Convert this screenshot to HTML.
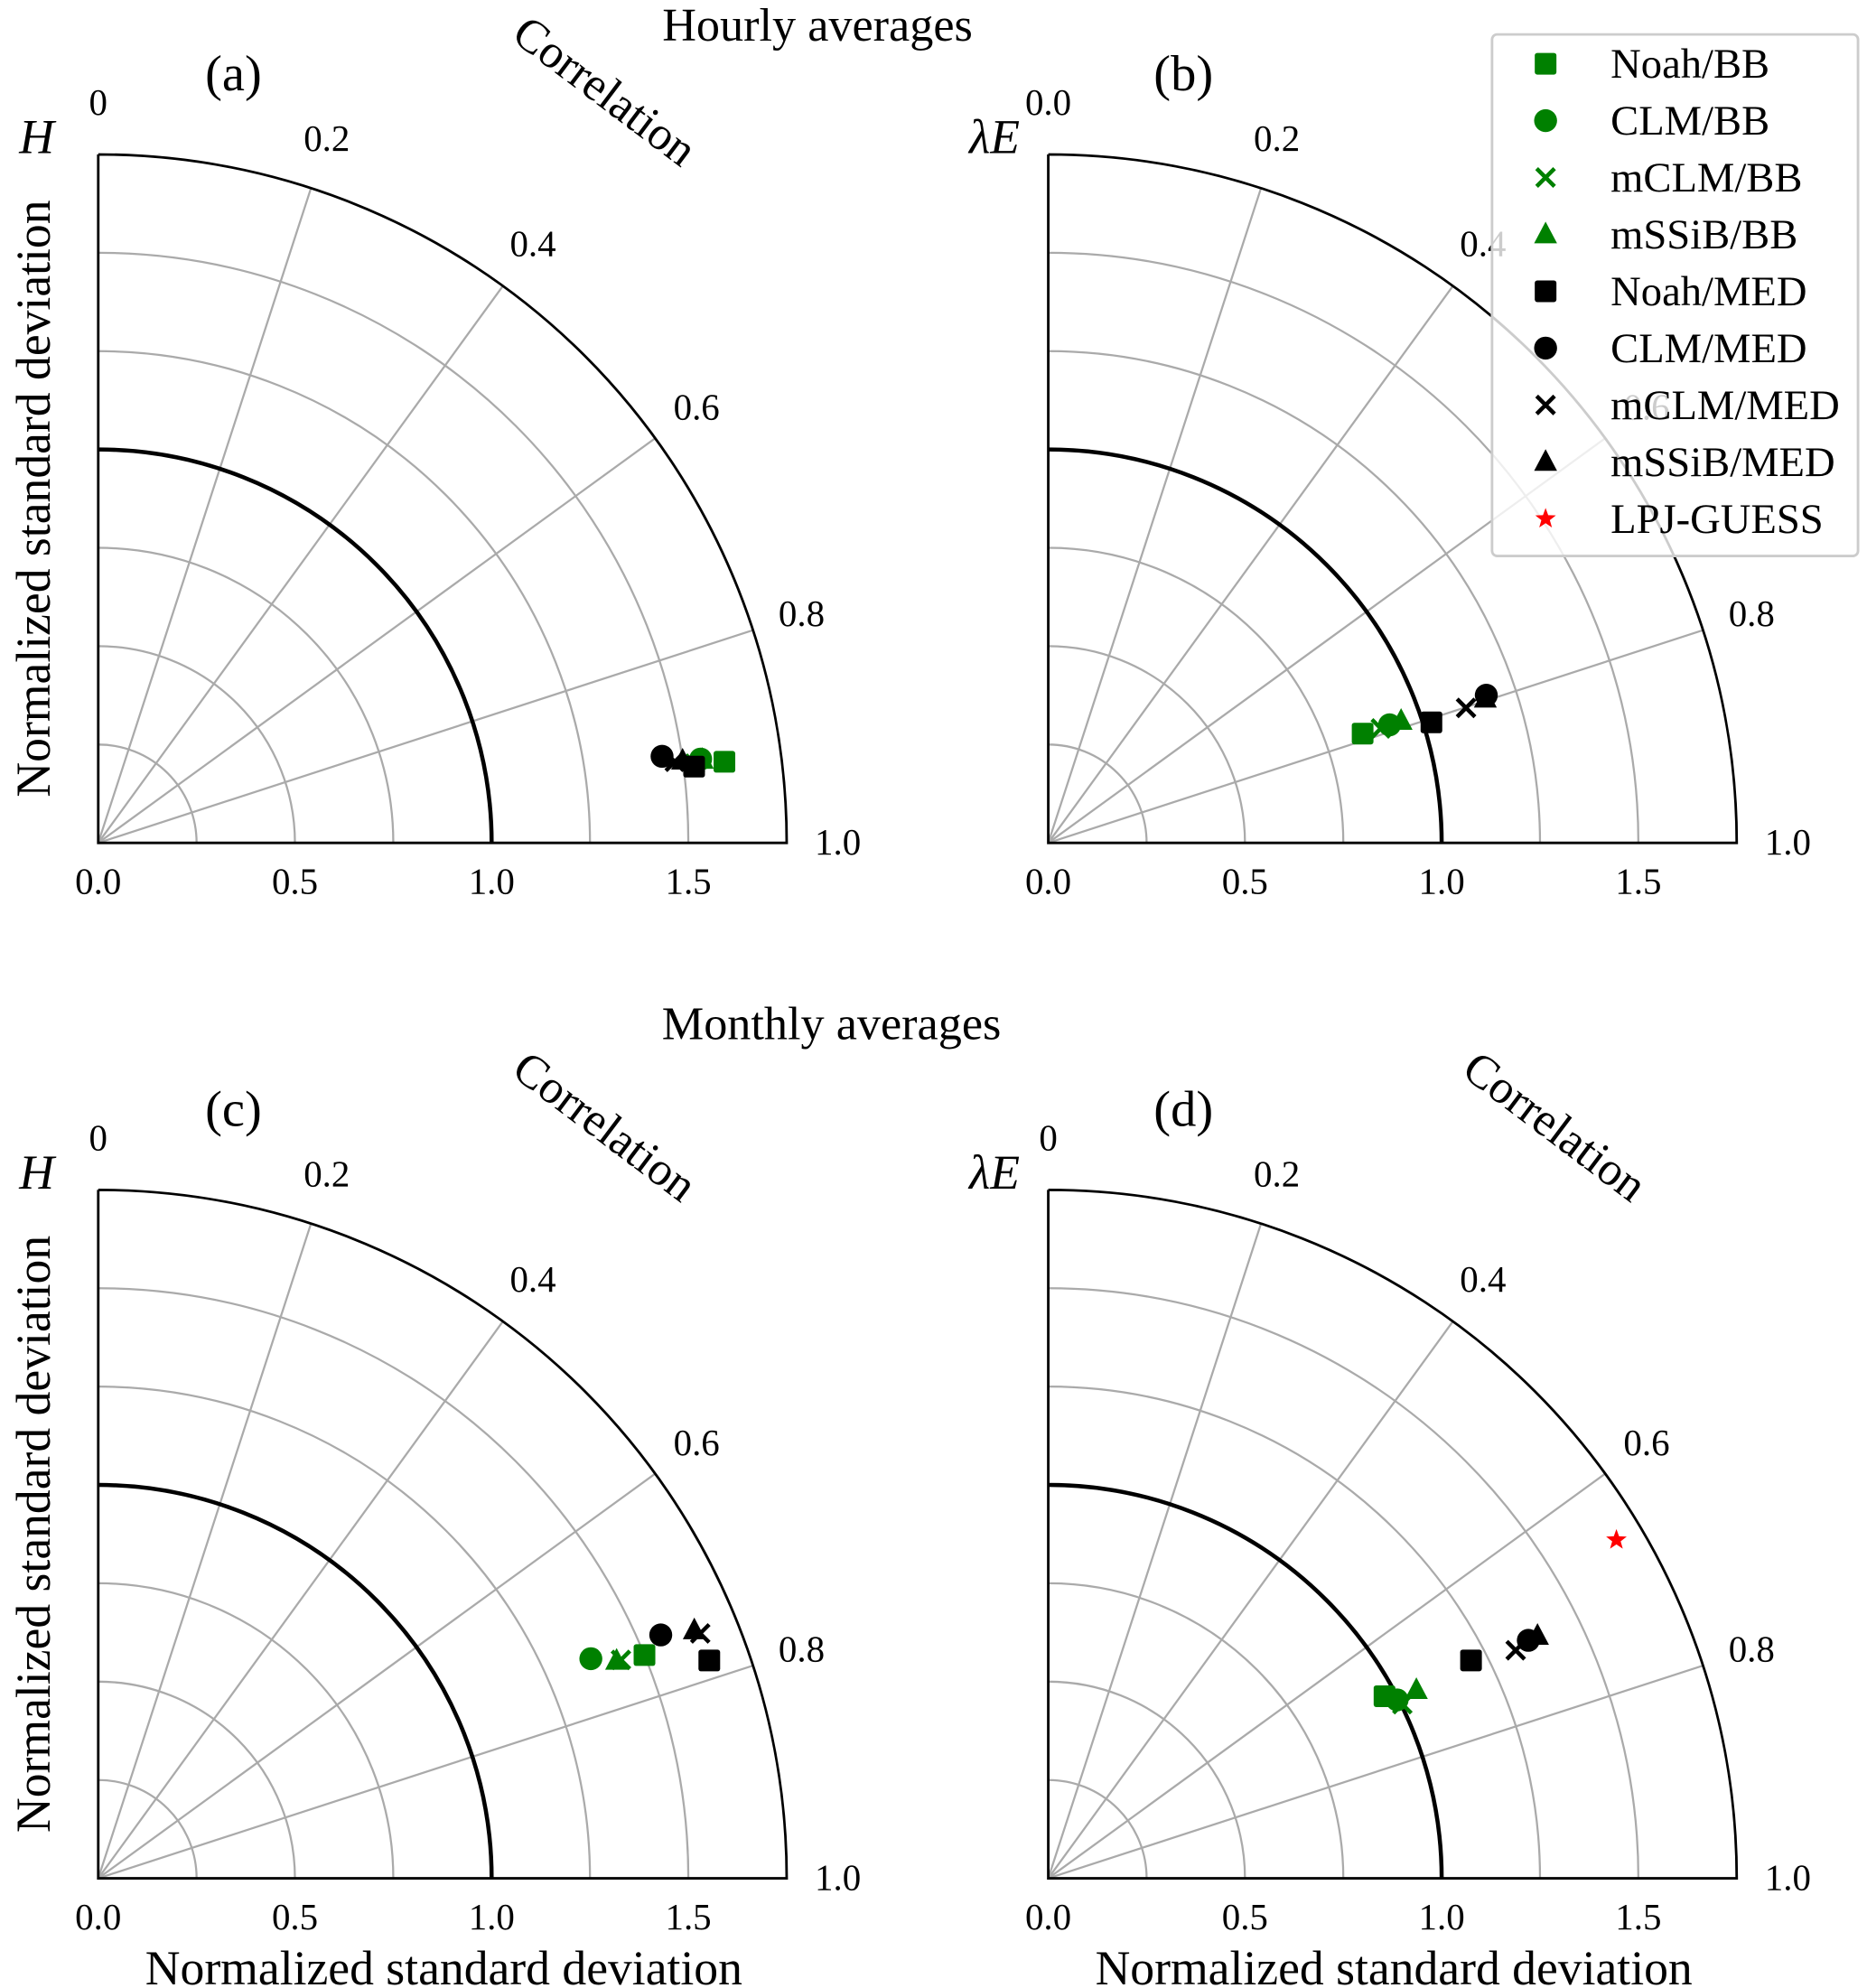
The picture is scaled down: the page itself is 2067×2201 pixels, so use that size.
<!DOCTYPE html>
<html><head><meta charset="utf-8"><style>
html,body{margin:0;padding:0;background:#fff;}
svg{display:block;font-family:"Liberation Serif",serif;}
</style></head><body>
<svg id="fig" width="2067" height="2201" viewBox="0 0 1464 1559" xmlns="http://www.w3.org/2000/svg">
<text x="641" y="32" font-size="37" text-anchor="middle">Hourly averages</text>
<text x="652" y="815" font-size="37" text-anchor="middle">Monthly averages</text>
<g id="legend"></g>
</svg>
<script>
// ---- data ----
const models = ["Noah/BB","CLM/BB","mCLM/BB","mSSiB/BB","Noah/MED","CLM/MED","mCLM/MED","mSSiB/MED","LPJ-GUESS"];
const markers = ["s","o","x","^","s","o","x","^","*"];
const colors = ["#008000","#008000","#008000","#008000","#000","#000","#000","#000","#ff0000"];
const stdA = [1.605,1.546,1.53,1.55,1.527,1.45,1.48,1.50];
const corA = [0.918,0.912,0.916,0.913,0.919,0.903,0.911,0.911];
const stdB = [0.846,0.918,0.894,0.949,1.021,1.175,1.116,1.17];
const corB = [0.787,0.788,0.789,0.788,0.806,0.793,0.801,0.797];
const stdC = [1.50,1.371,1.44,1.429,1.649,1.558,1.652,1.641];
const corC = [0.753,0.733,0.748,0.747,0.782,0.740,0.754,0.749];
const stdD = [0.972,0.996,1.003,1.051,1.209,1.362,1.322,1.388,1.681];
const corD = [0.684,0.699,0.709,0.699,0.697,0.707,0.711,0.707,0.658];
const corrTicks = [0,0.2,0.4,0.6,0.8,1.0];
const stdTicks = [0,0.5,1.0,1.5];

const NS="http://www.w3.org/2000/svg";
const svg=document.getElementById('fig');
const R=308.5;
function mk(tag,attrs,parent){const e=document.createElementNS(NS,tag);for(const k in attrs)e.setAttribute(k,attrs[k]);(parent||svg).appendChild(e);return e;}
function pos(ox,oy,r,c){const th=(1-c)*Math.PI/2;return [ox+r*R*Math.cos(th),oy-r*R*Math.sin(th)];}
function marker(g,type,x,y,col){
  let e;
  if(type==="s"){e=mk('rect',{x:x-8.5,y:y-8.5,width:17,height:17,rx:2,fill:col},g);}
  else if(type==="o"){e=mk('circle',{cx:x,cy:y,r:9,fill:col},g);}
  else if(type==="^"){e=mk('polygon',{points:`${x},${y-10} ${x+9},${y+7} ${x-9},${y+7}`,fill:col},g);}
  else if(type==="x"){e=mk('path',{d:`M${x-7},${y-7}L${x+7},${y+7}M${x-7},${y+7}L${x+7},${y-7}`,stroke:col,'stroke-width':3.2,fill:'none'},g);}
  else {let p=[];for(let i=0;i<10;i++){const rr=i%2?3.5:8.5;const a=-Math.PI/2+i*Math.PI/5;p.push((x+rr*Math.cos(a)).toFixed(2)+","+(y+rr*Math.sin(a)).toFixed(2));}e=mk('polygon',{points:p.join(' '),fill:col},g);}
  return e;
}
function panel(id,ox,oy,letter,varname,zeroLbl,stds,cors,showCorrTitle,showXTitle){
  const g=mk('g',{});
  
  
  [0.25,0.5,0.75,1.25,1.5].forEach(s=>{
    const a=mk('path',{d:`M${ox+s*R},${oy}A${s*R},${s*R} 0 0 0 ${ox},${oy-s*R}`,stroke:'#aaa','stroke-width':1.6,fill:'none'},g);
    
    
  });
  [0.2,0.4,0.6,0.8].forEach(c=>{
    const p=pos(ox,oy,1.75,c);
    const l=mk('line',{x1:ox,y1:oy,x2:p[0],y2:p[1],stroke:'#aaa','stroke-width':1.6},g);
    
    
  });
  const ref=mk('path',{d:`M${ox+R},${oy}A${R},${R} 0 0 0 ${ox},${oy-R}`,stroke:'#000','stroke-width':3.2,fill:'none'},g);
  
  
  const o=1.75*R;
  const fr=mk('path',{d:`M${ox},${oy-o}L${ox},${oy}L${ox+o},${oy}A${o},${o} 0 0 0 ${ox},${oy-o}`,stroke:'#000','stroke-width':2,fill:'none'},g);
  
  
  corrTicks.forEach(c=>{
    const p=pos(ox,oy,1.88,c);
    const t=mk('text',{x:p[0],y:p[1]+9,'font-size':29,'text-anchor':'middle'},g);
    t.textContent=(c===0)?zeroLbl:c.toFixed(1);
    
    
  });
  stdTicks.forEach(s=>{
    const t=mk('text',{x:ox+s*R,y:oy+40,'font-size':29,'text-anchor':'middle'},g);
    t.textContent=s.toFixed(1);
    
    
  });
  const lt=mk('text',{x:ox+106,y:oy-590,'font-size':40,'text-anchor':'middle'},g);
  lt.textContent='('+letter+')';
  
  
  const vt=mk('text',{x:ox-62,y:oy-541,'font-size':38,'font-style':'italic'},g);
  vt.textContent=varname;
  
  
  if(ox<500){
    const yl=mk('text',{x:0,y:0,'font-size':38,'text-anchor':'middle',transform:`translate(39,${oy-270}) rotate(-90)`},g);
    yl.textContent='Normalized standard deviation';
    
    
  }
  if(showCorrTitle){
    const ct=mk('text',{x:0,y:0,'font-size':37,'text-anchor':'middle',transform:`translate(${ox+390},${oy-580}) rotate(37)`},g);
    ct.textContent='Correlation';
    
    
  }
  if(showXTitle){
    const xt=mk('text',{x:ox+271,y:oy+83,'font-size':38,'text-anchor':'middle'},g);
    xt.textContent='Normalized standard deviation';
    
    
  }
  for(let i=0;i<stds.length;i++){
    const p=pos(ox,oy,stds[i],cors[i]);
    const m=marker(g,markers[i],p[0],p[1],colors[i]);
    
    
  }
}
panel('a',77,661,'a','H','0',stdA,corA,true,false);
panel('b',822,661,'b','λE','0.0',stdB,corB,false,false);
panel('c',77,1473,'c','H','0',stdC,corC,true,true);
panel('d',822,1473,'d','λE','0',stdD,corD,true,true);

const lg=document.getElementById('legend');
svg.appendChild(lg);
const box=mk('rect',{x:1170,y:27,width:287,height:409,rx:4,fill:'#fff','fill-opacity':0.8,stroke:'#ccc','stroke-width':2},lg);


models.forEach((m,i)=>{
  const y=50+i*44.6;
  const e=marker(lg,markers[i],1212,y,colors[i]);
  
  
  const t=mk('text',{x:1263,y:y+11,'font-size':33},lg);
  t.textContent=m;
  
  
});
</script>
</body></html>
